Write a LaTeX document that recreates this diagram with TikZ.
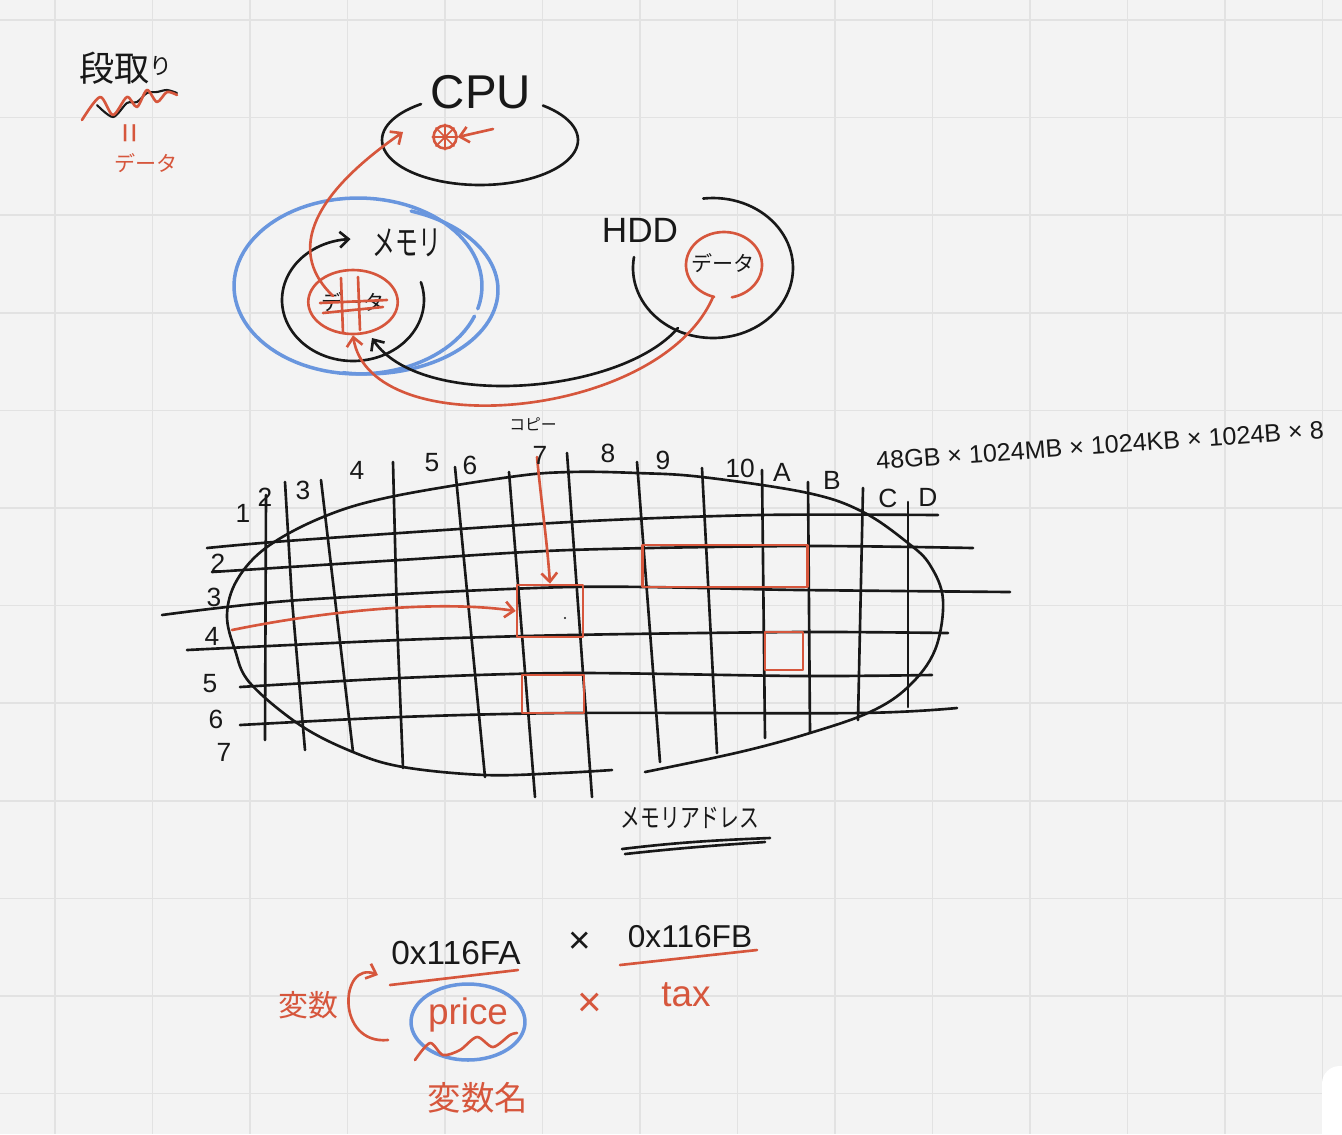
\documentclass[tikz,border=0pt]{standalone}
\usepackage{fontspec}
\setmainfont{Liberation Sans}
\newfontfamily\jp{Noto Sans CJK JP}
\usetikzlibrary{arrows.meta,shapes.geometric}
\definecolor{bg}{RGB}{243,243,243}
\definecolor{gridc}{RGB}{226,226,226}
\definecolor{pen}{RGB}{24,24,24}
\definecolor{redpen}{RGB}{214,86,60}
\definecolor{bluepen}{RGB}{105,150,222}
\tikzset{
  ink/.style={draw=pen, line width=1.5pt, line cap=round, line join=round},
  redink/.style={draw=redpen, line width=1.5pt, line cap=round, line join=round},
  blueink/.style={draw=bluepen, line width=2pt, line cap=round, line join=round},
  barb/.style={-{Straight Barb[length=5pt,width=9pt]}},
  lbl/.style={text=pen, inner sep=0pt},
  rlbl/.style={text=redpen, inner sep=0pt},
  num/.style={lbl, font=\fontsize{15}{15}\selectfont},
  redbox/.style={redink, rectangle, inner sep=0pt},
  gridline/.style={draw=gridc, line width=0.9pt},
}
\begin{document}
\begin{tikzpicture}[x=0.02cm,y=-0.02cm]
\useasboundingbox (0,0) rectangle (1342,1134);
\clip (0,0) rectangle (1342,1134);
\fill[bg] (0,0) rectangle (1342,1134);
% background grid
\foreach \k in {0,...,13} \draw[gridline] ({55+97.5*\k},0) -- ({55+97.5*\k},1134);
\foreach \k in {0,...,11} \draw[gridline] (0,{20+97.6*\k}) -- (1342,{20+97.6*\k});
\fill[white, rounded corners=10pt] (1322,1066) rectangle (1420,1220);

% ---------- top-left note ----------
\node[lbl, font=\jp\fontsize{20}{20}\selectfont] (dandori) at (126,68) {段取\raisebox{0.35ex}{\fontsize{13}{13}\selectfont り}};
\draw[ink, line width=1.2pt] plot[smooth] coordinates {(97,105) (113,117) (127,103) (137,102) (147,93) (157,92) (167,90) (177,93)};
\draw[redink] plot[smooth] coordinates {(82,120) (100,97) (113,115) (127,97) (137,107) (147,90) (157,102) (167,92) (177,95)};
\node[rlbl, rotate=90, font=\fontsize{20}{20}\selectfont] (eqsign) at (133,133) {=};
\node[rlbl, font=\jp\fontsize{12}{12}\selectfont] (data0) at (146,163) {データ};

% ---------- CPU ----------
\node[lbl, font=\fontsize{27}{27}\selectfont] (cpu) at (481,92) {CPU};
\draw[ink] plot[domain=-50:233, samples=70] ({480+98*cos(\x)},{140+45*sin(\x)});
\node[redink, circle, minimum size=0.46cm, inner sep=0pt] (ball) at (445,137) {};
\draw[redink, line width=1pt] (ball.north) -- (ball.south) (ball.west) -- (ball.east)
  (ball.north west) -- (ball.south east) (ball.north east) -- (ball.south west);
\coordinate (ballsrc) at (493,129);
\draw[redink, barb] (ballsrc) -- (ball.east);

% ---------- memory ----------
\draw[blueink] plot[domain=-340:15, samples=100] ({358+124*cos(\x)},{286+88*sin(\x)});
\draw[blueink] plot[domain=-70:100, samples=60] ({366+132*cos(\x)},{290+84*sin(\x)});
\node[lbl, font=\jp\fontsize{20}{20}\selectfont] (mem) at (407,243) {\scalebox{0.65}[1]{メモリ}};
\draw[ink, barb] plot[domain=-17:268, samples=80] ({353+71*cos(\x)},{300+61*sin(\x)});
\node[redink, ellipse, minimum width=1.44cm, minimum height=1.28cm, inner sep=0pt,
      text=pen, font=\jp\fontsize{12}{12}\selectfont] (mdata) at (353,302) {データ};
\draw[redink] (341,278) -- (343,333) (358,277) -- (360,330)
  (320,303) -- (387,300) (323,313) -- (383,307);

% ---------- HDD ----------
\node[lbl, font=\fontsize{20}{20}\selectfont] (hdd) at (640,230) {HDD};
\draw[ink] plot[domain=263:549, samples=80] ({713+80*cos(\x)},{268+70*sin(\x)});
\draw[redink] plot[domain=105:438, samples=70] ({724+38*cos(\x)},{265+33*sin(\x)});
\node[lbl, font=\jp\fontsize{12}{12}\selectfont] (hdata) at (723,263) {データ};
\coordinate (hdgap) at (713,297);
\coordinate (hddbl) at (678,328);
\coordinate (memin) at (372,338);
\coordinate (mdstart) at (333,296);
\coordinate (cpuin) at (403,132);

% ---------- arrows ----------
\draw[redink, barb] (mdstart) .. controls (290,255) and (305,200) .. (cpuin);
\draw[ink, barb] (hddbl) .. controls (620,395) and (420,410) .. (memin);
\draw[redink, barb] (hdgap) .. controls (660,420) and (370,445) .. (mdata.south);
\node[lbl, font=\jp\fontsize{9}{9}\selectfont] (copy) at (533,424) {コピー};

% ---------- memory address map ----------
\draw[ink] plot[smooth, tension=0.6] coordinates {(645,772) (740,752) (810,733) (870,712) (908,687) (935,650) (943,600) (930,565) (908,543) (863,512) (808,493) (702,477) (637,473) (570,472) (510,477) (390,497) (323,517) (267,547) (237,580) (227,615) (235,650) (250,683) (300,725) (353,752) (403,767) (485,775) (560,773) (612,770)};
% horizontal lines
\draw[ink] plot[smooth] coordinates {(207,548) (300,540) (570,522) (760,515) (938,515)};
\draw[ink] plot[smooth] coordinates {(212,572) (400,560) (570,550) (800,546) (973,548)};
\draw[ink] plot[smooth] coordinates {(162,615) (300,600) (570,587) (800,590) (1010,592)};
\draw[ink] plot[smooth] coordinates {(187,650) (400,640) (570,635) (800,632) (948,633)};
\draw[ink] plot[smooth] coordinates {(240,687) (400,678) (570,673) (800,676) (932,675)};
\draw[ink] plot[smooth] coordinates {(240,725) (400,717) (570,713) (860,713) (957,708)};
% vertical lines
\draw[ink] (266,495) -- (265,740);
\draw[ink] (285,482) -- (292,600) -- (305,750);
\draw[ink] (321,480) -- (353,752);
\draw[ink] (393,462) -- (397,620) -- (403,768);
\draw[ink] (455,467) -- (485,777);
\draw[ink] (509,472) -- (535,797);
\draw[ink] (567,453) -- (592,797);
\draw[ink] (637,462) -- (660,762);
\draw[ink] (702,468) -- (717,753);
\draw[ink] (762,470) -- (765,738);
\draw[ink] (808,482) -- (810,733);
\draw[ink] (863,488) -- (858,720);
\draw[ink] (908,502) -- (908,707);
% red cells
\node[redbox, minimum width=1.32cm, minimum height=1.04cm] (r1) at (550,611) {};
\fill[pen] (565,618) circle (1.2);
\node[redbox, minimum width=1.24cm, minimum height=0.76cm] (r2) at (553,694) {};
\node[redbox, minimum width=3.3cm, minimum height=0.84cm] (r3) at (725,566) {};
\node[redbox, minimum width=0.76cm, minimum height=0.76cm] (r4) at (784,651) {};
\coordinate (colsrc) at (537,457);
\coordinate (rowsrc) at (232,630);
\draw[redink, barb] (colsrc) .. controls (541,500) and (547,540) .. (r1.north);
\draw[redink, barb] (rowsrc) .. controls (330,610) and (440,600) .. (r1.west);
% column labels
\node[num] (c1) at (243,513) {1};
\node[num] (c2) at (265,497) {2};
\node[num] (c3) at (303,490) {3};
\node[num] (c4) at (357,470) {4};
\node[num] (c5) at (432,463) {5};
\node[num] (c6) at (470,465) {6};
\node[num] (c7) at (540,455) {7};
\node[num] (c8) at (608,453) {8};
\node[num] (c9) at (663,460) {9};
\node[num] (c10) at (740,468) {10};
\node[num] (cA) at (782,472) {A};
\node[num] (cB) at (832,480) {B};
\node[num] (cC) at (888,498) {C};
\node[num] (cD) at (928,497) {D};
% row labels
\node[num] (w2) at (218,563) {2};
\node[num] (w3) at (214,597) {3};
\node[num] (w4) at (212,636) {4};
\node[num] (w5) at (210,684) {5};
\node[num] (w6) at (216,719) {6};
\node[num] (w7) at (224,752) {7};
\node[lbl, font=\fontsize{14.3}{14.3}\selectfont, rotate=4, anchor=west] (size) at (876,461) {48GB × 1024MB × 1024KB × 1024B × 8};
\node[lbl, font=\jp\fontsize{15}{15}\selectfont] (addr) at (690,818) {\scalebox{0.75}[1]{メモリアドレス}};
\draw[ink] (622,849) .. controls (680,842) and (720,840) .. (770,838);
\draw[ink] (625,854) .. controls (680,848) and (720,845) .. (765,842);

% ---------- variables ----------
\node[lbl, font=\fontsize{19}{19}\selectfont] (hexA) at (456,953) {0x116FA};
\draw[redink] (390,985) -- (518,970);
\node[lbl, font=\fontsize{22}{22}\selectfont] (times1) at (580,943) {×};
\node[lbl, font=\fontsize{18}{18}\selectfont] (hexB) at (690,937) {0x116FB};
\draw[redink] (620,965) -- (757,950);
\node[rlbl, font=\fontsize{21}{21}\selectfont] (tax) at (686,995) {tax};
\node[rlbl, font=\fontsize{24}{24}\selectfont] (times2) at (590,1005) {×};
\node[rlbl, font=\fontsize{21}{21}\selectfont] (price) at (468,1015) {price};
\node[blueink, ellipse, minimum width=2.28cm, minimum height=1.52cm, inner sep=0pt] (ring) at (468,1022) {};
\draw[redink] plot[smooth] coordinates {(415,1060) (430,1043) (443,1055) (460,1050) (477,1037) (493,1047) (510,1035) (517,1033)};
\node[rlbl, font=\jp\fontsize{17}{17}\selectfont] (var) at (308,1005) {変数};
\node[rlbl, font=\jp\fontsize{19}{19}\selectfont] (varname) at (478,1098) {変数名};
\coordinate (varfrom) at (388,1040);
\coordinate (varto) at (378,975);
\draw[redink, barb] (varfrom) .. controls (335,1045) and (340,960) .. (varto);
\end{tikzpicture}
\end{document}
